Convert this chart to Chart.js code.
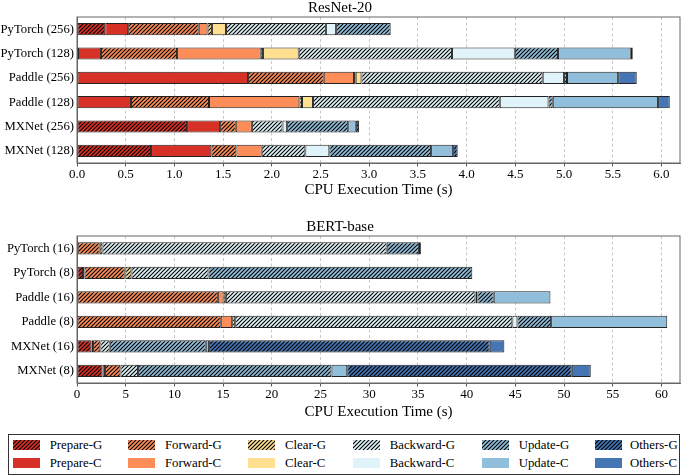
<!DOCTYPE html>
<html>
<head>
<meta charset="utf-8">
<script src="https://cdn.jsdelivr.net/npm/chart.js@4.4.1/dist/chart.umd.min.js"></script>
<style>
  html, body { margin: 0; padding: 0; background: #fff; }
  body { width: 685px; height: 476px; position: relative; overflow: hidden; font-family: 'Liberation Serif', serif; }
  canvas.plot { position: absolute; left: 0; }
  #legend { position: absolute; left: 8px; top: 434px; width: 672px; height: 41px; border: 1px solid #333; box-sizing: border-box; }
  .item { position: absolute; height: 14px; font-size: 12.8px; line-height: 14px; color: #000; white-space: nowrap; }
  .item canvas { position: absolute; left: 0; top: 2px; }
  .item span { position: absolute; top: 0; }
</style>
</head>
<body>
<canvas class="plot" id="resnet" width="685" height="200" style="top:-1px"></canvas>
<canvas class="plot" id="bert" width="685" height="203" style="top:218px"></canvas>
<div id="legend"></div>
<script>
const resnetLabels = ['PyTorch (256)', 'PyTorch (128)', 'Paddle (256)', 'Paddle (128)', 'MXNet (256)', 'MXNet (128)'];
const bertLabels = ['PyTorch (16)', 'PyTorch (8)', 'Paddle (16)', 'Paddle (8)', 'MXNet (16)', 'MXNet (8)'];
const stages = ['Prepare', 'Forward', 'Clear', 'Backward', 'Update', 'Others'];
const stageColors = ['#d73027', '#fc8d59', '#fee090', '#e0f3f8', '#91bfdb', '#4575b4'];

// ResNet-20, seconds per stage (G = hatched, C = solid)
const resPrepareG = [0.29, 0.01, 0, 0, 1.13, 0.76];
const resPrepareC = [0.235, 0.236, 1.756, 0.554, 0.339, 0.619];
const resForwardG = [0.725, 0.781, 0.777, 0.801, 0.161, 0.257];
const resForwardC = [0.09, 0.859, 0.311, 0.928, 0.165, 0.26];
const resClearG = [0.045, 0.024, 0.017, 0.027, 0, 0];
const resClearC = [0.145, 0.366, 0.059, 0.113, 0, 0];
const resBackwardG = [1.025, 1.574, 1.861, 1.917, 0.315, 0.448];
const resBackwardC = [0.105, 0.644, 0.219, 0.5, 0.047, 0.246];
const resUpdateG = [0.56, 0.444, 0.03, 0.044, 0.627, 1.045];
const resUpdateC = [0, 0.747, 0.525, 1.081, 0.078, 0.226];
const resOthersG = [0, 0, 0, 0, 0.034, 0.047];
const resOthersC = [0, 0.02, 0.191, 0.12, 0, 0];

// BERT-base
const bertPrepareG = [0.07, 0.62, 0, 0, 1.48, 2.61];
const bertPrepareC = [0, 0.14, 0, 0, 0.17, 0.27];
const bertForwardG = [2.26, 4.14, 14.46, 14.76, 0.75, 1.58];
const bertForwardC = [0, 0.07, 0.58, 1.17, 0, 0];
const bertClearG = [0.28, 0.62, 0.24, 0.31, 0, 0];
const bertClearC = [0, 0, 0, 0, 0, 0];
const bertBackwardG = [29.18, 7.91, 25.62, 28.45, 0.96, 1.81];
const bertBackwardC = [0, 0, 0.2, 0.52, 0, 0];
const bertUpdateG = [3.31, 27.08, 1.68, 3.46, 9.86, 19.86];
const bertUpdateC = [0.2, 0, 5.82, 11.92, 0.34, 1.61];
const bertOthersG = [0, 0, 0, 0, 28.81, 23.05];
const bertOthersC = [0, 0, 0, 0, 1.5, 1.95];

const resSeries = [[resPrepareG, resPrepareC], [resForwardG, resForwardC], [resClearG, resClearC],
  [resBackwardG, resBackwardC], [resUpdateG, resUpdateC], [resOthersG, resOthersC]];
const bertSeries = [[bertPrepareG, bertPrepareC], [bertForwardG, bertForwardC], [bertClearG, bertClearC],
  [bertBackwardG, bertBackwardC], [bertUpdateG, bertUpdateC], [bertOthersG, bertOthersC]];

Chart.defaults.font.family = "'Liberation Serif', 'Times New Roman', serif";
Chart.defaults.color = '#000';

function hatch(color) {
  const c = document.createElement('canvas');
  c.width = c.height = 4;
  const g = c.getContext('2d');
  g.fillStyle = color;
  g.fillRect(0, 0, 4, 4);
  g.strokeStyle = '#000';
  g.lineWidth = 1.1;
  g.beginPath();
  g.moveTo(0, 4); g.lineTo(4, 0);
  g.moveTo(-1, 1); g.lineTo(1, -1);
  g.moveTo(3, 5); g.lineTo(5, 3);
  g.stroke();
  return g.createPattern(c, 'repeat');
}

function buildDatasets(series) {
  const out = [];
  stages.forEach((s, i) => {
    out.push({ label: s + '-G', data: series[i][0], backgroundColor: hatch(stageColors[i]) });
    out.push({ label: s + '-C', data: series[i][1], backgroundColor: stageColors[i] });
  });
  out.forEach(d => {
    d.borderColor = '#222';
    d.borderWidth = 1;
    d.borderSkipped = false;
    d.barPercentage = 0.5;
    d.categoryPercentage = 1;
  });
  return out;
}

const frame = {
  id: 'frame',
  afterDraw(chart) {
    const { ctx, chartArea: a } = chart;
    ctx.save();
    ctx.strokeStyle = '#666';
    ctx.lineWidth = 1;
    ctx.strokeRect(a.left, a.top, a.right - a.left, a.bottom - a.top);
    ctx.restore();
  }
};

function makeChart(id, title, labels, series, max, step, digits, axisH) {
  return new Chart(document.getElementById(id), {
    type: 'bar',
    data: { labels: labels, datasets: buildDatasets(series) },
    options: {
      indexAxis: 'y',
      responsive: false,
      animation: false,
      layout: { padding: { left: 0, right: 5, top: 0, bottom: 0 } },
      plugins: {
        legend: { display: false },
        tooltip: { enabled: false },
        title: { display: true, text: title, font: { size: 15, weight: 'normal' }, padding: { top: 0, bottom: 0 } }
      },
      scales: {
        x: {
          stacked: true,
          min: 0,
          max: max,
          afterFit: s => { s.height = axisH; },
          ticks: {
            stepSize: step,
            includeBounds: false,
            padding: 0,
            font: { size: 13 },
            callback: v => Number(v).toFixed(digits)
          },
          grid: { color: '#c8c8c8', tickColor: '#555', tickLength: 3.5, tickBorderDash: [] },
          border: { color: '#666', dash: [3, 2.5] },
          title: { display: true, text: 'CPU Execution Time (s)', font: { size: 15 }, padding: { top: 0, bottom: 0 } }
        },
        y: {
          stacked: true,
          afterFit: s => { s.width = 77; },
          ticks: { padding: 3, font: { size: 12.7 } },
          grid: { display: false, drawTicks: false },
          border: { color: '#666' }
        }
      }
    },
    plugins: [frame]
  });
}

makeChart('resnet', 'ResNet-20', resnetLabels, resSeries, 6.19, 0.5, 1, 36);
makeChart('bert', 'BERT-base', bertLabels, bertSeries, 61.9, 5, 0, 38);

// legend, laid out in 2 rows x 6 columns like the original
const legendCols = [12.7, 128, 248, 352.7, 481.7, 595];
const legendRows = [438, 456];
stages.forEach((s, i) => {
  ['G', 'C'].forEach((k, r) => {
    const item = document.createElement('div');
    item.className = 'item';
    item.style.left = legendCols[i] + 'px';
    item.style.top = legendRows[r] + 'px';
    const sw = document.createElement('canvas');
    sw.width = 27; sw.height = 10;
    const g = sw.getContext('2d');
    g.fillStyle = k === 'G' ? hatch(stageColors[i]) : stageColors[i];
    g.fillRect(0, 0, 27, 10);
    const t = document.createElement('span');
    t.style.left = (i === 5 ? 35 : 37) + 'px';
    t.textContent = s + '-' + k;
    item.appendChild(sw);
    item.appendChild(t);
    document.body.appendChild(item);
  });
});
</script>
</body>
</html>
